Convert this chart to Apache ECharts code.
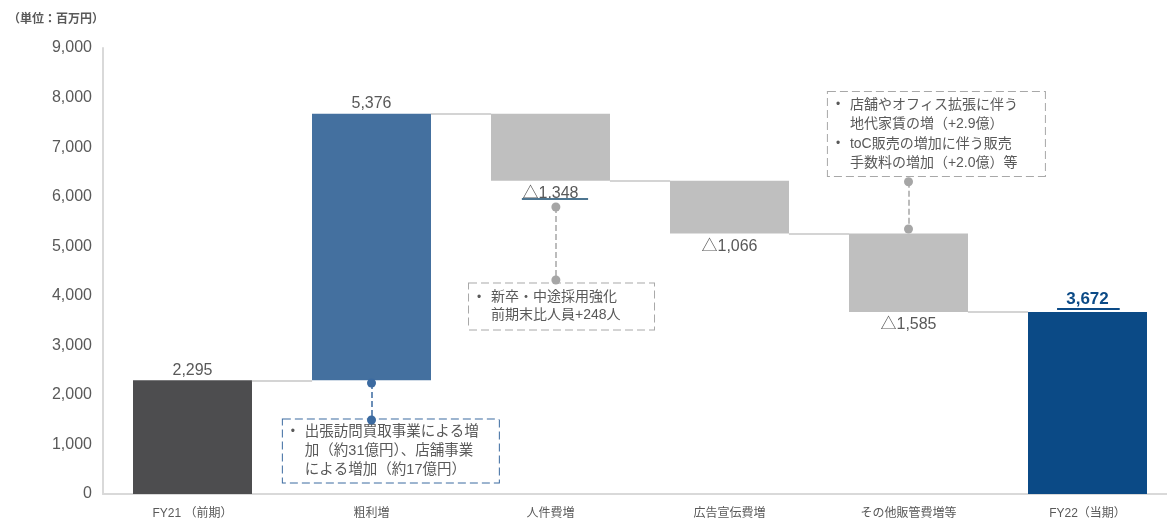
<!DOCTYPE html>
<html>
<head>
<meta charset="utf-8">
<script src="https://cdn.jsdelivr.net/npm/echarts@6/dist/echarts.min.js"></script>
<style>
  html, body { margin: 0; padding: 0; background: #fff; overflow: hidden; }
  #main { width: 1190px; height: 522px; }
</style>
</head>
<body>
<div id="main"></div>
<script>
// waterfall data (百万円)
const categories = ['FY21 （前期）', '粗利増', '人件費増', '広告宣伝費増', 'その他販管費増等', 'FY22（当期）']
const amounts = [2295, 5376, 1348, 1066, 1585, 3672]
const kinds = ['total', 'up', 'down', 'down', 'down', 'total']
const yTicks = [0, 1000, 2000, 3000, 4000, 5000, 6000, 7000, 8000, 9000]

const notes = [
  ['出張訪問買取事業による増', '加（約31億円）、店舗事業', 'による増加（約17億円）'],
  ['新卒・中途採用強化', '前期末比人員+248人'],
  ['店舗やオフィス拡張に伴う', '地代家賃の増（+2.9億）', 'toC販売の増加に伴う販売', '手数料の増加（+2.0億）等']
]
const noteBullets = [[true, false, false], [true, false], [true, false, true, false]]

const barColors = ['#4d4d4f', '#44709f', '#bfbfbf', '#bfbfbf', '#bfbfbf', '#0b4a86']
const textColor = '#595959'
const font = '"Liberation Sans", "Noto Sans CJK JP", sans-serif'

// running totals -> invisible base + visible part
var base = []
var levels = []
var running = 0
amounts.forEach((v, i) => {
  if (kinds[i] == 'total') {
    base.push(0)
    running = v
  } else if (kinds[i] == 'up') {
    base.push(running)
    running += v
  } else {
    running -= v
    base.push(running)
  }
  levels.push(running)
})

function fmt(v) {
  return v.toLocaleString('en-US')
}

var barData = amounts.map((v, i) => {
  var item = { value: v, itemStyle: { color: barColors[i] } }
  if (kinds[i] == 'down') {
    item.label = { position: 'bottom', distance: 5 }
  }
  if (i == amounts.length - 1) {
    item.label = { position: 'top', distance: 4, fontWeight: 'bold', color: '#0b4a86', fontSize: 17 }
  }
  return item
})

// connector lines between bars (on the hidden value x axis)
const half = 0.332
var markLines = []
for (let i = 0; i < levels.length - 1; i++) {
  markLines.push([
    { coord: [i + half, levels[i]], lineStyle: { color: '#d4d4d4', width: 2, type: 'solid' } },
    { coord: [i + 1 - half, levels[i]] }
  ])
}
// underlines under △1,348 and 3,672
markLines.push([
  { coord: [1.84, 5952], lineStyle: { color: '#4d7590', width: 2, type: 'solid' } },
  { coord: [2.21, 5952] }
])
markLines.push([
  { coord: [4.83, 3733], lineStyle: { color: '#0b4a86', width: 2, type: 'solid' } },
  { coord: [5.18, 3733] }
])

// leader lines for the notes
function leader(x, y1, y2, color) {
  return [
    { coord: [x, y1], symbol: 'circle', symbolSize: 9, itemStyle: { color: color }, lineStyle: { color: color, width: 1.5, type: 'dashed' } },
    { coord: [x, y2], symbol: 'circle', symbolSize: 9, itemStyle: { color: color } }
  ]
}
var leaders = [
  leader(1.0, 2240, 1493, '#3b6aa0'),
  leader(2.03, 5791, 4318, '#a6a6a6'),
  leader(4.0, 6300, 5347, '#a6a6a6')
]

function noteText(idx) {
  return notes[idx].map((line, j) => '{b|' + (noteBullets[idx][j] ? '•' : ' ') + '}{t|' + line + '}').join('\n')
}

function notePoint(idx, x, y, border, width, lh, padV, fs) {
  return {
    coord: [x, y],
    label: {
      show: true,
      position: 'right',
      distance: 0,
      formatter: noteText(idx),
      backgroundColor: '#fff',
      borderColor: border,
      borderType: 'dashed',
      borderWidth: 1,
      padding: [padV, 6, padV, 8],
      width: width,
      rich: {
        b: { width: 14, fontSize: 12, color: textColor, lineHeight: lh, fontFamily: font },
        t: { fontSize: fs, color: textColor, lineHeight: lh, fontFamily: font }
      }
    }
  }
}

var markPoints = [
  notePoint(0, 0.502, 868, '#3b6aa0', 202, 19, 3, 14.5),
  notePoint(1, 1.542, 3783, '#a8a8a8', 171, 18, 5, 14),
  notePoint(2, 3.547, 7264, '#a8a8a8', 203, 19.5, 3, 14)
]

var myChart = echarts.init(document.getElementById('main'))

const option = {
  animation: false,
  title: {
    text: '（単位：百万円）',
    left: 3,
    top: 9,
    textStyle: { fontSize: 12, fontWeight: 'bold', color: textColor, fontFamily: font }
  },
  grid: {
    left: 103,
    top: 48,
    width: 1074,
    bottom: 28,
    containLabel: false
  },
  xAxis: [
    {
      type: 'category',
      data: categories,
      axisTick: { show: false },
      axisLine: { lineStyle: { color: '#d9d9d9', width: 2 } },
      axisLabel: { color: textColor, fontSize: 12, margin: 14, fontFamily: font }
    },
    {
      type: 'value',
      min: -0.5,
      max: 5.5,
      show: false
    }
  ],
  yAxis: {
    type: 'value',
    min: 0,
    max: 9000,
    interval: 1000,
    axisLine: { show: true, onZero: false, lineStyle: { color: '#d9d9d9', width: 2 } },
    axisTick: { show: false },
    splitLine: { show: false },
    axisLabel: {
      color: textColor,
      fontSize: 16,
      margin: 11,
      fontFamily: font,
      formatter: (v) => yTicks.indexOf(v) >= 0 ? fmt(v) : ''
    }
  },
  series: [
    {
      type: 'bar',
      stack: 'w',
      data: base,
      barWidth: 119,
      silent: true,
      itemStyle: { color: 'transparent' }
    },
    {
      type: 'bar',
      stack: 'w',
      data: barData,
      barWidth: 119,
      label: {
        show: true,
        position: 'top',
        distance: 2,
        color: textColor,
        fontSize: 16,
        fontFamily: font,
        formatter: (p) => (kinds[p.dataIndex] == 'down' ? '△' : '') + fmt(p.value)
      }
    },
    {
      type: 'line',
      xAxisIndex: 1,
      data: [],
      silent: true,
      markLine: {
        silent: true,
        symbol: 'none',
        label: { show: false },
        emphasis: { disabled: true },
        data: markLines
      },
      markPoint: {
        silent: true,
        z: 3,
        symbol: 'rect',
        symbolSize: 1,
        itemStyle: { color: 'transparent' },
        data: markPoints
      }
    },
    {
      type: 'line',
      xAxisIndex: 1,
      data: [],
      silent: true,
      z: 10,
      markLine: {
        silent: true,
        z: 20,
        zlevel: 1,
        symbol: 'none',
        label: { show: false },
        emphasis: { disabled: true },
        data: leaders
      }
    }
  ]
}

myChart.setOption(option)
</script>
</body>
</html>
